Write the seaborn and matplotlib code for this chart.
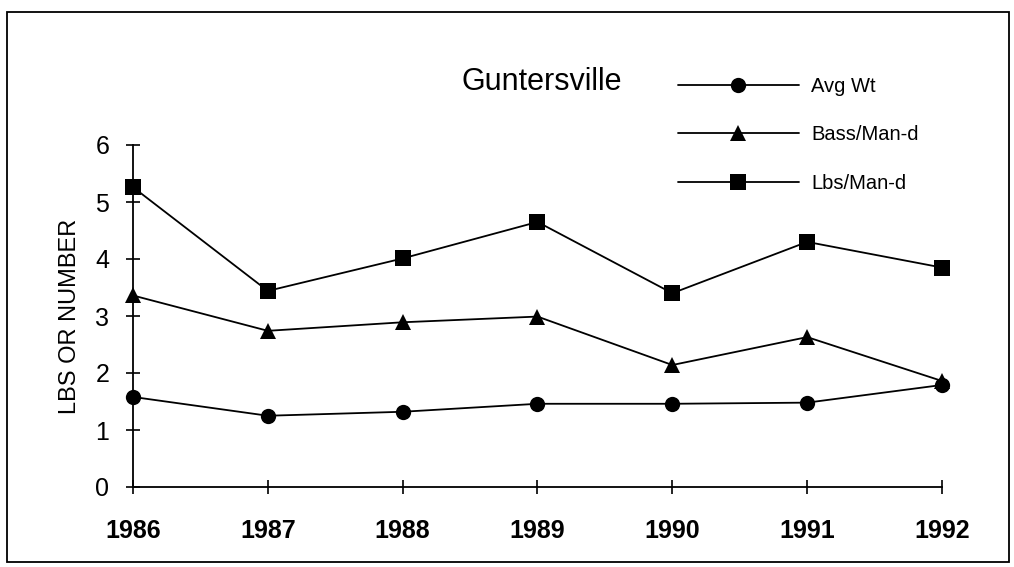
import pandas as pd
import seaborn as sns
import matplotlib.pyplot as plt
from matplotlib.patches import Rectangle

YEARS = [1986, 1987, 1988, 1989, 1990, 1991, 1992]
AVG_WT = [1.58, 1.25, 1.32, 1.46, 1.46, 1.48, 1.79]
BASS_MAN_D = [3.36, 2.74, 2.89, 2.99, 2.14, 2.63, 1.86]
LBS_MAN_D = [5.26, 3.44, 4.01, 4.65, 3.40, 4.30, 3.85]
SERIES = ['Avg Wt', 'Bass/Man-d', 'Lbs/Man-d']


def main():
    sns.set_style('white')
    plt.rcParams['font.family'] = ['Liberation Sans', 'DejaVu Sans']
    plt.rcParams['text.color'] = 'black'
    plt.rcParams['axes.labelcolor'] = 'black'
    plt.rcParams['xtick.color'] = 'black'
    plt.rcParams['ytick.color'] = 'black'

    df = pd.concat([
        pd.DataFrame({'year': YEARS, 'value': vals, 'series': name})
        for name, vals in zip(SERIES, [AVG_WT, BASS_MAN_D, LBS_MAN_D])
    ])

    fig = plt.figure(figsize=(10.14, 5.67), dpi=100)
    ax = fig.add_axes([133 / 1014, 1 - 487 / 567, (942 - 133) / 1014, (487 - 145) / 567])

    g = sns.lineplot(data=df, x='year', y='value', hue='series', style='series',
                     hue_order=SERIES, style_order=SERIES,
                     palette=['black'] * 3, markers={'Avg Wt': 'o', 'Bass/Man-d': '^', 'Lbs/Man-d': 's'},
                     dashes=False, markersize=11, linewidth=1.3, markeredgewidth=0, ax=ax)
    for line in g.lines:
        line.set_clip_on(False)

    g.set(xlim=(1986, 1992), ylim=(0, 6), xlabel='', ylabel='LBS OR NUMBER')
    g.set_xticks(YEARS)
    g.set_xticklabels([str(y) for y in YEARS], fontsize=18, fontweight='bold')
    g.set_yticks(range(7))
    g.set_yticklabels([str(i) for i in range(7)], fontsize=18)
    g.yaxis.label.set_fontsize(17)
    g.yaxis.labelpad = 10
    g.tick_params(axis='both', bottom=True, left=True, direction='inout',
                  length=10, width=1.2, color='black', labelcolor='black')
    g.tick_params(axis='x', pad=18)
    g.tick_params(axis='y', pad=12)
    for side in ['top', 'right']:
        g.spines[side].set_visible(False)
    for side in ['left', 'bottom']:
        g.spines[side].set_color('black')
        g.spines[side].set_linewidth(1.3)

    handles, labels = g.get_legend_handles_labels()
    leg = g.legend(handles, labels, loc='center left', bbox_to_anchor=(678 / 1014, 1 - 135 / 567),
                   bbox_transform=fig.transFigure, frameon=False, fontsize=14.5,
                   handlelength=6, handletextpad=0.6, labelspacing=1.45, borderpad=0, borderaxespad=0)
    for t in leg.get_texts():
        t.set_color('black')

    fig.text(542 / 1014, 1 - 82 / 567, 'Guntersville', ha='center', va='center', fontsize=22, color='black')

    fig.patches.append(Rectangle((7 / 1014, 1 - 562 / 567), 1002 / 1014, 550 / 567,
                                 transform=fig.transFigure, fill=False, edgecolor='black', linewidth=1.3))

    fig.savefig('out.png', dpi=100)


if __name__ == '__main__':
    main()
